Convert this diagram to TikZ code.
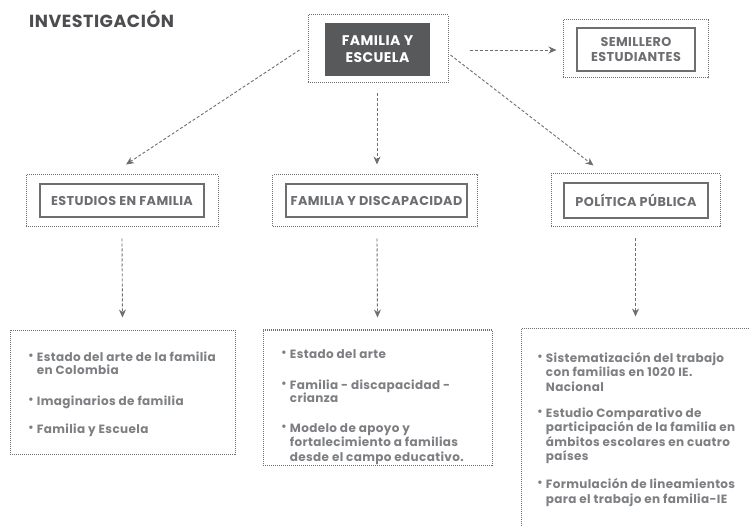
\documentclass[tikz,border=0pt]{standalone}
\usepackage{fontspec}
\setmainfont{Poppins}[LetterSpace=3]
\usetikzlibrary{arrows.meta}
\definecolor{darkbox}{HTML}{58595B}
\definecolor{bordergray}{HTML}{6D6E71}
\definecolor{textgray}{HTML}{7D7F82}
\definecolor{titlegray}{HTML}{4D4D4F}
\tikzset{
  outerbox/.style={draw=bordergray, densely dotted, line width=1pt, minimum width=#1, inner sep=0pt},
  innerbox/.style={draw=bordergray, line width=1.8pt, fill=white, inner sep=0pt, font=\fontsize{12.8}{15}\selectfont\bfseries, text=bordergray},
  darkbox/.style={fill=darkbox, inner sep=0pt, align=center, text=white, font=\fontsize{14}{17}\selectfont\bfseries},
  listbox/.style={draw=bordergray, densely dotted, line width=1pt, inner sep=0pt},
  listtext/.style={anchor=north west, inner sep=0pt, text=textgray, font=\fontsize{12}{14}\selectfont\bfseries},
  conn/.style={draw=bordergray, line width=0.9pt, dash pattern=on 3pt off 2pt, -{Stealth[length=8pt,width=7pt]}},
}
\newcommand{\bul}{\raisebox{1.8pt}{\scalebox{0.95}{•}}}
\begin{document}
\begin{tikzpicture}[x=1pt,y=-1pt]
\useasboundingbox (0,0) rectangle (749,526);
\clip (0,0) rectangle (749,526);
\node[anchor=west, inner sep=0pt, text=titlegray, font=\fontsize{17.5}{20}\selectfont\bfseries] (title) at (29,19) {INVESTIGACIÓN};
% top
\node[outerbox=140pt, minimum height=68pt] (feo) at (378,49) {};
\node[darkbox, minimum width=105pt, minimum height=53pt] (fei) at (377.5,49.5) {FAMILIA Y\\ESCUELA};
\node[outerbox=145pt, minimum height=58pt] (semo) at (635.5,49) {};
\node[innerbox, minimum width=118pt, minimum height=43pt, align=center] (semi) at (636,49.5) {SEMILLERO\\ESTUDIANTES};
% middle row
\node[outerbox=192pt, minimum height=52pt] (esto) at (122,201) {};
\node[innerbox, minimum width=164pt, minimum height=33pt] (esti) at (122,200.5) {ESTUDIOS EN FAMILIA};
\node[outerbox=205pt, minimum height=52pt] (diso) at (375,201) {};
\node[innerbox, minimum width=181pt, minimum height=33pt] (disi) at (376.5,200.5) {FAMILIA Y DISCAPACIDAD};
\node[outerbox=169pt, minimum height=53pt] (polo) at (635.5,200.5) {};
\node[innerbox, minimum width=144pt, minimum height=35pt] (poli) at (636,200.5) {POLÍTICA PÚBLICA};
% bottom boxes
\node[listbox, minimum width=225pt, minimum height=124pt] (boxa) at (122.5,392) {};
\node[listbox, minimum width=229pt, minimum height=135pt] (boxb) at (377.5,397.5) {};
\node[listbox, minimum width=240pt, minimum height=212pt] (boxc) at (641,435) {};
% texts
\node[listtext] (ta) at (28,351.2) {\begin{tabular}{@{}l@{\hspace{3pt}}l@{}}
\bul & Estado del arte de la familia\\[-1pt]
 & en Colombia\\[17pt]
\bul & Imaginarios de familia\\[14pt]
\bul & Familia y Escuela
\end{tabular}};
\node[listtext] (tb) at (281,348.2) {\begin{tabular}{@{}l@{\hspace{3pt}}l@{}}
\bul & Estado del arte\\[17pt]
\bul & Familia - discapacidad -\\[-1pt]
 & crianza\\[16pt]
\bul & Modelo de apoyo y\\
 & fortalecimiento a familias\\[1pt]
 & desde el campo educativo.
\end{tabular}};
\node[listtext] (tc) at (537,352.2) {\begin{tabular}{@{}l@{\hspace{3pt}}l@{}}
\bul & Sistematización del trabajo\\[0.5pt]
 & con familias en 1020 IE.\\[0.5pt]
 & Nacional\\[12pt]
\bul & Estudio Comparativo de\\
 & participación de la familia en\\[1pt]
 & ámbitos escolares en cuatro\\
 & países\\[13pt]
\bul & Formulación de lineamientos\\[1pt]
 & para el trabajo en familia-IE
\end{tabular}};
% connectors
\coordinate (pc) at ([shift={(0,-12)}]boxc.north -| polo.south);
\draw[conn] ([shift={(-8,1)}]feo.west) -- ([shift={(4,-10)}]esto.north);
\draw[conn] ([shift={(-1,10)}]feo.south) -- ([shift={(2,-10)}]diso.north);
\draw[conn] ([shift={(2,6)}]feo.east) -- ([shift={(-42,-8)}]polo.north);
\draw[conn] ([shift={(21,1)}]feo.east) -- ([shift={(-6,1)}]semo.west);
\draw[conn] ([shift={(0,11)}]esto.south) -- ([shift={(0,-12)}]boxa.north);
\draw[conn] ([shift={(2,11)}]diso.south) -- ([shift={(0,-12)}]boxb.north);
\draw[conn] ([shift={(0,11)}]polo.south) -- (pc);
\end{tikzpicture}
\end{document}
